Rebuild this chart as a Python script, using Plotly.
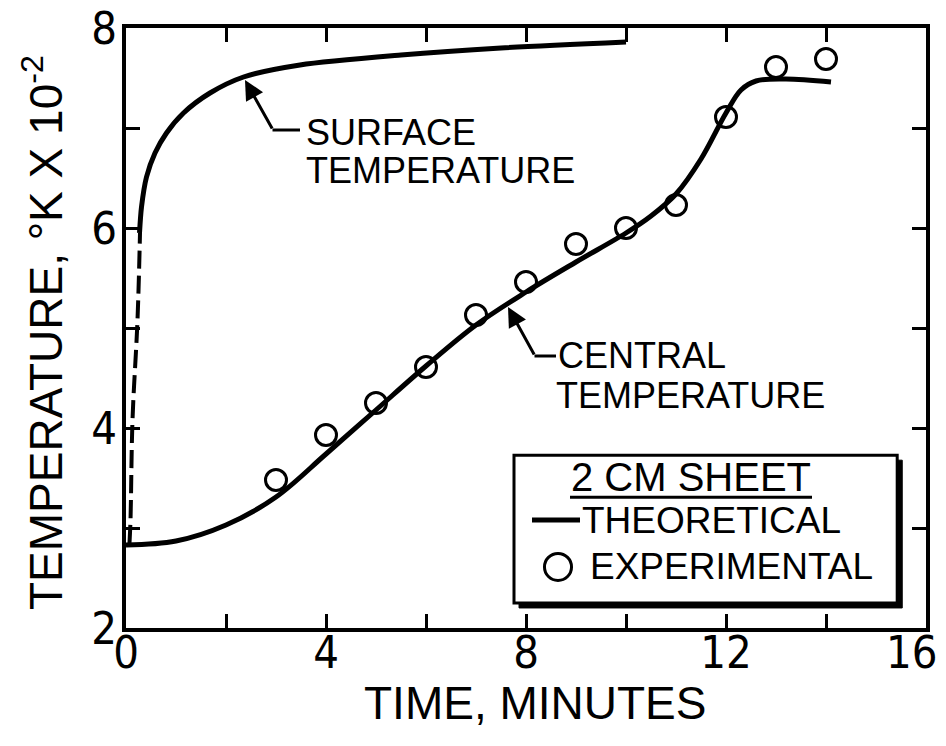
import plotly.graph_objects as go

# ---- data ----
surface_x = [0.27, 0.31, 0.41, 0.58, 0.81, 1.15, 1.68, 2.35, 3.48, 5.5, 7.5, 10.0]
surface_y = [5.95, 6.21, 6.51, 6.75, 6.95, 7.15, 7.35, 7.51, 7.63, 7.73, 7.80, 7.86]

surface_dash_x = [0.07, 0.09, 0.13, 0.23, 0.28]
surface_dash_y = [2.85, 3.08, 4.08, 5.08, 5.95]

central_x = [0.0, 1.0, 2.0, 3.0, 4.0, 5.0, 6.0, 7.0, 8.0, 9.0, 10.0, 10.5, 11.0, 11.5,
             12.0, 12.3, 12.6, 13.2, 14.1]
central_y = [2.83, 2.87, 3.03, 3.31, 3.74, 4.18, 4.62, 5.03, 5.36, 5.66, 5.95, 6.12, 6.34,
             6.69, 7.15, 7.38, 7.47, 7.49, 7.46]

exp_x = [3, 4, 5, 6, 7, 8, 9, 10, 11, 12, 13, 14]
exp_y = [3.48, 3.93, 4.25, 4.61, 5.13, 5.46, 5.84, 6.00, 6.23, 7.11, 7.61, 7.69]

x_tickvals = [0, 2, 4, 6, 8, 10, 12, 14, 16]
x_ticktext = ["0", "", "4", "", "8", "", "12", "", ""]
x_last_label = "16"
y_tickvals = [2, 3, 4, 5, 6, 7, 8]
y_ticktext = ["2", "", "4", "", "6", "", "8"]

NARROW = "Liberation Sans Narrow, Arial Narrow, DejaVu Sans Condensed, sans-serif"
SANS = "Liberation Sans, Arial, sans-serif"

fig = go.Figure()
fig.add_trace(go.Scatter(x=surface_x, y=surface_y, mode="lines",
                         line=dict(color="black", width=5, shape="spline", smoothing=0.8),
                         showlegend=False))
fig.add_trace(go.Scatter(x=surface_dash_x, y=surface_dash_y, mode="lines",
                         line=dict(color="black", width=4, dash="18px,7px", shape="spline"),
                         showlegend=False))
fig.add_trace(go.Scatter(x=central_x, y=central_y, mode="lines",
                         line=dict(color="black", width=5, shape="spline", smoothing=1.0),
                         showlegend=False))
fig.add_trace(go.Scatter(x=exp_x, y=exp_y, mode="markers",
                         marker=dict(symbol="circle-open", size=21, color="black",
                                     line=dict(width=3, color="black")),
                         showlegend=False))

tick_font = dict(family=NARROW, size=45, color="black")
axis_common = dict(showline=True, linecolor="black", linewidth=4, mirror="ticks",
                   ticks="inside", ticklen=14, tickwidth=3, tickcolor="black",
                   showgrid=False, zeroline=False, automargin=False,
                   ticklabeloverflow="allow", tickfont=tick_font)

fig.update_xaxes(range=[0, 16], tickvals=x_tickvals, ticktext=x_ticktext,
                 ticklabelstandoff=-18, **axis_common)
fig.update_yaxes(range=[2, 8], tickvals=y_tickvals, ticktext=y_ticktext,
                 ticklabelstandoff=-4, **axis_common)

annotations = []
# last x tick label, kept inside the page
annotations.append(dict(text=x_last_label, xref="paper", yref="paper", x=1.0175, y=-0.041,
                        showarrow=False, font=tick_font, xanchor="right", yanchor="middle"))
# axis titles
annotations.append(dict(text="TIME, MINUTES", xref="paper", yref="paper", x=0.511, y=-0.125,
                        showarrow=False, font=dict(family=SANS, size=46, color="black"),
                        xanchor="center", yanchor="middle"))
annotations.append(dict(text="TEMPERATURE, °K X 10<sup>-2</sup>", xref="paper", yref="paper",
                        x=-0.104, y=0.493, textangle=-90, showarrow=False,
                        font=dict(family=SANS, size=46, color="black"),
                        xanchor="center", yanchor="middle"))
# curve labels
lab_font = dict(family=SANS, size=36, color="black")
annotations += [
    dict(text="SURFACE", x=3.56, y=6.96, xref="x", yref="y", showarrow=False,
         xanchor="left", yanchor="middle", font=lab_font),
    dict(text="TEMPERATURE", x=3.56, y=6.58, xref="x", yref="y", showarrow=False,
         xanchor="left", yanchor="middle", font=lab_font),
    dict(text="CENTRAL", x=8.6, y=4.73, xref="x", yref="y", showarrow=False,
         xanchor="left", yanchor="middle", font=lab_font),
    dict(text="TEMPERATURE", x=8.56, y=4.33, xref="x", yref="y", showarrow=False,
         xanchor="left", yanchor="middle", font=lab_font),
]
# arrows
annotations += [
    dict(x=2.38, y=7.48, ax=2.94, ay=6.98, xref="x", yref="y", axref="x", ayref="y",
         text="", showarrow=True, arrowhead=2, arrowsize=1.3, arrowwidth=3, arrowcolor="black"),
    dict(x=7.64, y=5.21, ax=8.18, ay=4.72, xref="x", yref="y", axref="x", ayref="y",
         text="", showarrow=True, arrowhead=2, arrowsize=1.3, arrowwidth=3, arrowcolor="black"),
]
# legend texts
leg_font = dict(family=SANS, size=37, color="black")
annotations += [
    dict(text="2 CM SHEET", xref="paper", yref="paper", x=0.706, y=0.252, showarrow=False,
         xanchor="center", yanchor="middle", font=dict(family=SANS, size=40, color="black")),
    dict(text="THEORETICAL", xref="paper", yref="paper", x=0.568, y=0.18, showarrow=False,
         xanchor="left", yanchor="middle", font=leg_font),
    dict(text="EXPERIMENTAL", xref="paper", yref="paper", x=0.578, y=0.1017, showarrow=False,
         xanchor="left", yanchor="middle", font=leg_font),
]

shapes = [
    # arrow elbows
    dict(type="line", xref="x", yref="y", x0=2.93, y0=6.98, x1=3.48, y1=6.98,
         line=dict(color="black", width=3)),
    dict(type="line", xref="x", yref="y", x0=8.17, y0=4.72, x1=8.6, y1=4.72,
         line=dict(color="black", width=3)),
    # legend shadow and box
    dict(type="rect", xref="paper", yref="paper", x0=0.4913, y0=0.0334, x1=0.9703, y1=0.2797,
         fillcolor="black", line=dict(color="black", width=1), layer="above"),
    dict(type="rect", xref="paper", yref="paper", x0=0.485, y0=0.0417, x1=0.964, y1=0.288,
         fillcolor="white", line=dict(color="black", width=3), layer="above"),
    # underline
    dict(type="line", xref="paper", yref="paper", x0=0.555, y0=0.218, x1=0.8575, y1=0.218,
         line=dict(color="black", width=3), layer="above"),
    # legend line sample
    dict(type="line", xref="paper", yref="paper", x0=0.5075, y0=0.18, x1=0.5675, y1=0.18,
         line=dict(color="black", width=5), layer="above"),
    # legend circle sample
    dict(type="circle", xref="paper", yref="paper", x0=0.5231, y0=0.0792, x1=0.5569, y1=0.1242,
         line=dict(color="black", width=3), fillcolor="rgba(0,0,0,0)", layer="above"),
]

fig.update_layout(width=946, height=746, margin=dict(l=126, r=20, t=28, b=118),
                  paper_bgcolor="white", plot_bgcolor="white",
                  annotations=annotations, shapes=shapes, showlegend=False)

fig.write_html("out.html")
